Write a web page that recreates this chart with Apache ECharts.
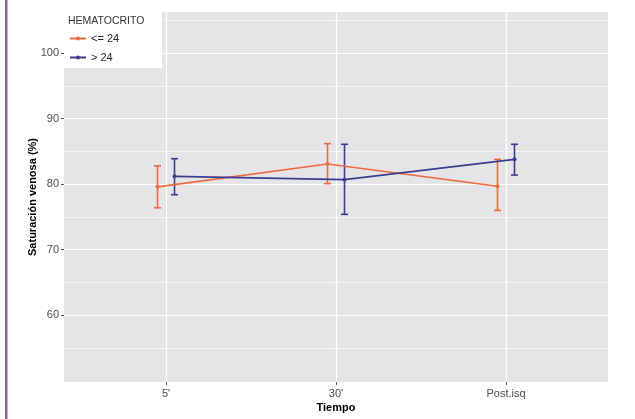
<!DOCTYPE html>
<html><head><meta charset="utf-8">
<script src="https://cdn.jsdelivr.net/npm/echarts@6/dist/echarts.min.js"></script>
<style>html,body{margin:0;padding:0;background:#fff}#c{width:635px;height:419px}</style>
</head><body><div id="c"></div>
<script>
// Mean venous saturation (%) with error bars, by time point and hematocrit group
const categories = ["5'", "30'", "Post.isq"];
const groupNames = ['<= 24', '> 24'];
const meanLow = [79.6, 83.1, 79.7];
const lowerLow = [76.4, 80.1, 76.0];
const upperLow = [82.8, 86.2, 83.8];
const meanHigh = [81.2, 80.7, 83.8];
const lowerHigh = [78.4, 75.4, 81.4];
const upperHigh = [83.9, 86.1, 86.1];
const yMajorTicks = [60, 70, 80, 90, 100];
const yMinorTicks = [55, 65, 75, 85, 95, 105];

const colorLow = '#F0693C';
const colorHigh = '#3C3D8E';
const dodge = 0.05;
const catPos = categories.map((c, i) => i + 1);

function lineSeries(name, mean, color, shift) {
  return {
    type: 'line', name: name, z: 4,
    data: catPos.map((p, i) => [p + shift, mean[i]]),
    symbol: 'circle', symbolSize: 4,
    itemStyle: { color: color },
    lineStyle: { color: color, width: 1.6 },
    emphasis: { disabled: true }, animation: false
  };
}
function errorSeries(name, lower, upper, color, shift) {
  return {
    type: 'custom', name: name, z: 3,
    data: catPos.map((p, i) => [p + shift, lower[i], upper[i]]),
    encode: { x: 0, y: [1, 2] },
    renderItem: function (params, api) {
      const x = api.value(0);
      const lo = api.coord([x, api.value(1)]);
      const hi = api.coord([x, api.value(2)]);
      const cap = 3.5;
      const st = { stroke: color, lineWidth: 1.6 };
      return { type: 'group', children: [
        { type: 'line', shape: { x1: lo[0], y1: lo[1], x2: hi[0], y2: hi[1] }, style: st },
        { type: 'line', shape: { x1: lo[0] - cap, y1: lo[1], x2: lo[0] + cap, y2: lo[1] }, style: st },
        { type: 'line', shape: { x1: hi[0] - cap, y1: hi[1], x2: hi[0] + cap, y2: hi[1] }, style: st }
      ] };
    },
    animation: false
  };
}

const yBase = {
  type: 'value', min: 49.8, max: 106.3,
  axisLine: { show: false }
};

const chart = echarts.init(document.getElementById('c'), null, { renderer: 'canvas' });
chart.setOption({
  animation: false,
  textStyle: { fontFamily: 'Liberation Sans, Arial, sans-serif' },
  grid: { left: 64, right: 27, top: 12, bottom: 37, show: true, backgroundColor: '#E5E5E8', borderWidth: 0 },
  xAxis: {
    type: 'value', min: 0.4, max: 3.6,
    axisLine: { show: false },
    axisTick: { show: true, customValues: catPos, length: 3, lineStyle: { color: '#555' } },
    axisLabel: { customValues: catPos, formatter: v => categories[Math.round(v) - 1], color: '#4D4D4D', fontSize: 11, margin: 6 },
    splitLine: { show: true, lineStyle: { color: '#FFFFFF', width: 1.2 } },
    name: 'Tiempo', nameLocation: 'middle', nameGap: 20, nameMoveOverlap: false,
    nameTextStyle: { fontWeight: 'bold', fontSize: 11, color: '#000' }
  },
  yAxis: [
    Object.assign({}, yBase, {
      axisTick: { show: true, customValues: yMajorTicks, length: 3, lineStyle: { color: '#555' } },
      axisLabel: { customValues: yMajorTicks, color: '#4D4D4D', fontSize: 11, margin: 5 },
      splitLine: { show: true, lineStyle: { color: '#FFFFFF', width: 1.2 } },
      name: 'Saturación venosa (%)', nameLocation: 'middle', nameGap: 26, nameMoveOverlap: false,
      nameTextStyle: { fontWeight: 'bold', fontSize: 11, color: '#000' }
    }),
    Object.assign({}, yBase, {
      axisTick: { show: false, customValues: yMinorTicks },
      axisLabel: { show: false, customValues: yMinorTicks },
      splitLine: { show: true, lineStyle: { color: '#FFFFFF', width: 0.6 } }
    })
  ],
  legend: {
    data: groupNames, orient: 'vertical', left: 69, top: 33,
    itemWidth: 16, itemHeight: 5, itemGap: 8, padding: 0,
    textStyle: { fontSize: 11, color: '#222' }, z: 20, selectedMode: false
  },
  graphic: { elements: [
    { type: 'rect', left: 5, top: 0, shape: { width: 2.5, height: 419 }, style: { fill: '#9B59A6' }, z: 10 },
    { type: 'rect', left: 64, top: 12, shape: { width: 98, height: 56 }, style: { fill: '#FFFFFF' }, z: 10 },
    { type: 'text', left: 68, top: 16, style: { text: 'HEMATOCRITO', fontSize: 10.5, fill: '#333', fontFamily: 'Liberation Sans, Arial, sans-serif' }, z: 11 }
  ] },
  series: [
    errorSeries('err-low', lowerLow, upperLow, colorLow, -dodge),
    errorSeries('err-high', lowerHigh, upperHigh, colorHigh, dodge),
    lineSeries(groupNames[0], meanLow, colorLow, -dodge),
    lineSeries(groupNames[1], meanHigh, colorHigh, dodge)
  ]
});
</script>
</body></html>
